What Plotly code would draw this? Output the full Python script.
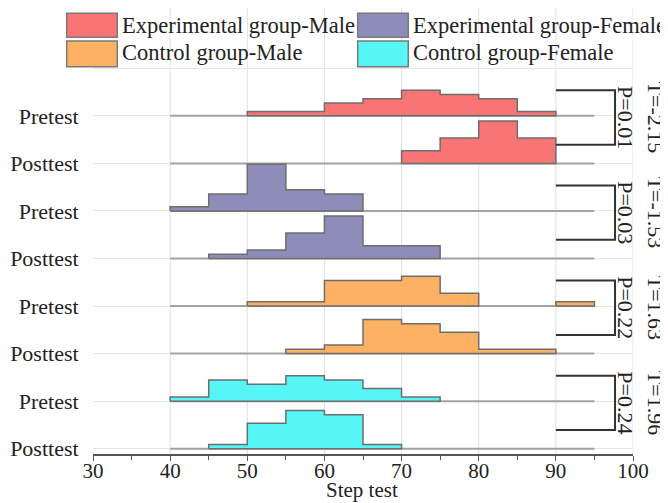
import plotly.graph_objects as go

# ---------------- data ----------------
bin_edges = [40, 45, 50, 55, 60, 65, 70, 75, 80, 85, 90, 95]
row_labels = ["Pretest", "Posttest", "Pretest", "Posttest",
              "Pretest", "Posttest", "Pretest", "Posttest"]
groups = ["Experimental group-Male", "Experimental group-Female",
          "Control group-Male", "Control group-Female"]

exp_male_pre = [0, 0, 1, 1, 3, 4, 6, 5, 4, 1, 0]
exp_male_post = [0, 0, 0, 0, 0, 0, 3, 6, 10, 6, 0]
exp_female_pre = [1, 4, 11, 5, 4, 0, 0, 0, 0, 0, 0]
exp_female_post = [0, 1, 2, 6, 10, 3, 3, 0, 0, 0, 0]
ctrl_male_pre = [0, 0, 1, 1, 6, 6, 7, 3, 0, 0, 1]
ctrl_male_post = [0, 0, 0, 1, 2, 8, 7, 5, 1, 1, 0]
ctrl_female_pre = [1, 5, 4, 6, 5, 3, 1, 0, 0, 0, 0]
ctrl_female_post = [0, 1, 6, 9, 8, 1, 0, 0, 0, 0, 0]

t_values = ["T=-2.15", "T=-1.53", "T=1.63", "T=1.96"]
p_values = ["P=0.01", "P=0.03", "P=0.22", "P=0.24"]

# ---------------- style ----------------
colors = ["#F97474", "#8E8DB9", "#FDB165", "#57F6F6"]
outline = "#6E6E6E"
FONT = "Liberation Serif"
ROW_STEP = 11.19  # vertical spacing between ridges (count units)

rows = [
    (exp_male_pre, 0), (exp_male_post, 0),
    (exp_female_pre, 1), (exp_female_post, 1),
    (ctrl_male_pre, 2), (ctrl_male_post, 2),
    (ctrl_female_pre, 3), (ctrl_female_post, 3),
]
n_rows = len(rows)
baselines = [(n_rows - 1 - i) * ROW_STEP for i in range(n_rows)]


def step_polygon(counts, base):
    xs, ys = [], []
    i = 0
    n = len(counts)
    while i < n:
        if counts[i] == 0:
            i += 1
            continue
        j = i
        while j < n and counts[j] > 0:
            j += 1
        px, py = [bin_edges[i]], [base]
        for k in range(i, j):
            px += [bin_edges[k], bin_edges[k + 1]]
            py += [base + counts[k], base + counts[k]]
        px += [bin_edges[j], bin_edges[i]]
        py += [base, base]
        if xs:
            xs.append(None)
            ys.append(None)
        xs += px
        ys += py
        i = j
    return xs, ys


fig = go.Figure()

for (counts, g), base in zip(rows, baselines):
    fig.add_trace(go.Scatter(
        x=[bin_edges[0], bin_edges[-1]], y=[base, base], mode="lines",
        line=dict(color="#A3A3A3", width=2), showlegend=False, hoverinfo="skip"))
    xs, ys = step_polygon(counts, base)
    fig.add_trace(go.Scatter(
        x=xs, y=ys, mode="lines", fill="toself", fillcolor=colors[g],
        line=dict(color=outline, width=1.5), name=groups[g], showlegend=False))

# ---------------- layout helpers ----------------
# page has an 8px body margin: figure pixel = page pixel - 8
OFF = 8
W, H = 668 - OFF, 503 - OFF
L, R, T, B = 93 - OFF, 633 - OFF, 0, 454 - OFF
PX_PER_COUNT = 4.249
y_bottom = -1.25
y_top = y_bottom + (B - T) / PX_PER_COUNT


def pxx(p):  # page x pixel -> paper
    return (p - OFF - L) / (R - L)


def pxy(p):  # page y pixel -> paper
    return (B - (p - OFF)) / (B - T)


shapes = []
for xv in [40, 50, 60, 70, 80, 90, 100]:
    shapes.append(dict(type="line", xref="x", yref="paper", x0=xv, x1=xv, y0=0, y1=1,
                       line=dict(color="#E0E0E0", width=1), layer="below"))

annotations = []
for k in range(4):
    top = baselines[2 * k] + 6.0
    bot = baselines[2 * k + 1] + 4.4
    x0, x1 = 90, 97.67
    shapes.append(dict(type="path", xref="x", yref="y",
                       path=f"M {x0},{top} L {x1},{top} L {x1},{bot} L {x0},{bot}",
                       line=dict(color="#333333", width=2), layer="above"))
    mid = (top + bot) / 2
    annotations.append(dict(text=p_values[k], xref="paper", yref="y", x=pxx(625.5), y=mid,
                            textangle=90, showarrow=False, xanchor="center", yanchor="middle",
                            font=dict(family=FONT, size=22, color="#222")))
    annotations.append(dict(text=t_values[k], xref="paper", yref="y", x=pxx(655), y=mid,
                            textangle=90, showarrow=False, xanchor="center", yanchor="middle",
                            font=dict(family=FONT, size=22, color="#222")))

leg = [(66.7, 13.3, 37.3, 0, 120, 25), (357.7, 13.3, 37.3, 1, 411, 25),
       (66.7, 41.0, 66.7, 2, 120, 53), (357.7, 41.0, 66.7, 3, 411, 53)]
for bx, by0, by1, g, tx, ty in leg:
    shapes.append(dict(type="rect", xref="paper", yref="paper",
                       x0=pxx(bx), x1=pxx(bx + 50.6), y0=pxy(by1), y1=pxy(by0),
                       fillcolor=colors[g], line=dict(color="#7A7A7A", width=1.5), layer="above"))
    annotations.append(dict(text=groups[g], xref="paper", yref="paper", x=pxx(tx), y=pxy(ty),
                            xanchor="left", yanchor="middle", showarrow=False,
                            font=dict(family=FONT, size=22.5, color="#222")))

annotations.append(dict(text="Step test", xref="paper", yref="paper", x=pxx(362), y=pxy(489.5),
                        xanchor="center", yanchor="middle", showarrow=False,
                        font=dict(family=FONT, size=21, color="#222")))

fig.update_layout(
    width=W, height=H,
    margin=dict(l=L, r=W - R, t=T, b=H - B),
    paper_bgcolor="white", plot_bgcolor="white",
    showlegend=False,
    shapes=shapes, annotations=annotations,
    xaxis=dict(range=[30, 100], tickvals=[30, 40, 50, 60, 70, 80, 90, 100],
               showgrid=False, zeroline=False, showline=True, linecolor="#555555", linewidth=1.5,
               ticks="outside", ticklen=5, tickcolor="#555555", tickwidth=1.2,
               ticklabelstandoff=-8,
               minor=dict(tickvals=[35, 45, 55, 65, 75, 85, 95], ticks="outside", ticklen=4,
                          tickcolor="#555555", showgrid=False),
               tickfont=dict(family=FONT, size=21, color="#222")),
    yaxis=dict(range=[y_bottom, y_top],
               tickvals=baselines + [n_rows * ROW_STEP],
               ticktext=row_labels + [""],
               showgrid=True, gridcolor="#E6E6E6", gridwidth=1, zeroline=False, showline=False,
               ticks="outside", ticklen=9, tickcolor="rgba(0,0,0,0)",
               tickfont=dict(family=FONT, size=22, color="#222")),
)

fig.write_html("out.html")
